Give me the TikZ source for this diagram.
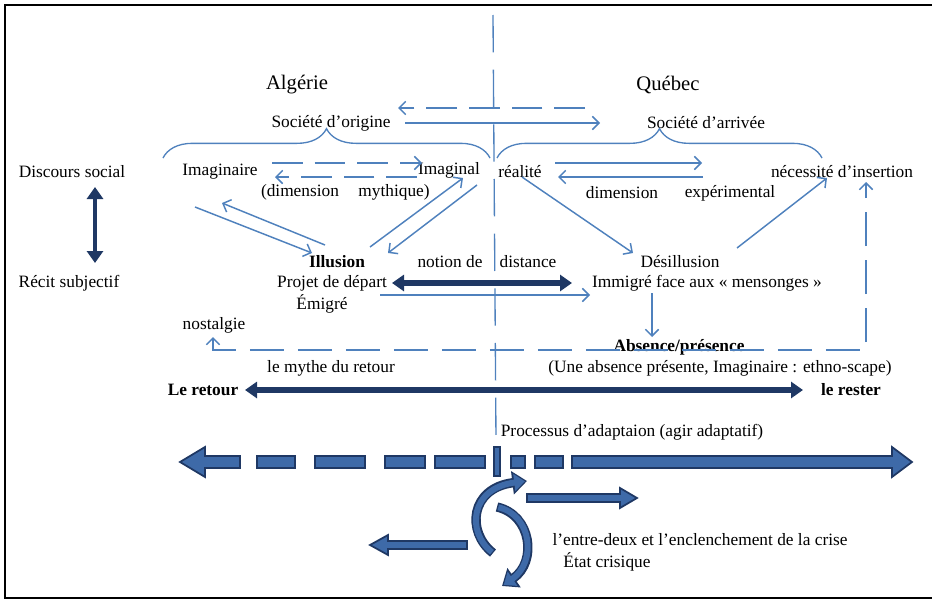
\documentclass[tikz,border=0pt]{standalone}
\usepackage{fontspec}
\setmainfont{Liberation Serif}
\usetikzlibrary{positioning,arrows.meta,decorations.pathreplacing}
\definecolor{bleu}{RGB}{79,129,189}
\definecolor{marine}{RGB}{31,56,100}
\definecolor{bleubloc}{RGB}{62,106,168}
\tikzset{
  every node/.style={font=\fontsize{13}{15}\selectfont, inner sep=0pt},
  titre/.style={font=\fontsize{15.5}{18}\selectfont},
  gras/.style={font=\fontsize{13}{15}\selectfont\bfseries},
  trait/.style={draw=bleu, line width=1.1pt, >={Straight Barb[length=5pt,width=10pt]}, ->},
  tiret/.style={trait, dash pattern=on 23pt off 9pt},
  fleche/.style={draw=marine, line width=4.5pt, {Triangle[length=9pt,width=12pt]}-{Triangle[length=9pt,width=12pt]}},
  bloc/.style={draw=marine, fill=bleubloc, line width=1.3pt}
}

\begin{document}
\begin{tikzpicture}[x=0.75pt, y=-0.75pt]
  \useasboundingbox (0,0) rectangle (932,600);
  \draw[line width=1.5pt] (932,5) -- (5,5) -- (5,598) -- (932,598);

  % dividing line
  \draw[bleu, line width=1pt, dash pattern=on 28pt off 13pt] (493,15) -- (496,440);

  \node[titre] (algerie) at (297,85) {Algérie};
  \node[titre] (quebec)  at (668,85) {Québec};
  \node (origine) at (331,123) {Société d’origine};
  \node (arrivee) at (706,123) {Société d’arrivée};

  \draw[bleu, line width=1pt, decorate, decoration={brace, amplitude=22pt}] (163,158) -- (490,158);
  \draw[bleu, line width=1pt, decorate, decoration={brace, amplitude=22pt}] (497,158) -- (822,158);

  \node (discours)     at (72,172)  {Discours social};
  \node (recit)        at (69,283)  {Récit subjectif};
  \node (imaginaire)   at (220,172) {Imaginaire};
  \node (imaginal)     at (449,170) {Imaginal};
  \node (dimmyth)      at (300,192) {(dimension};
  \node (mythique)     at (394,192) {mythique)};
  \node (realite)      at (520,172) {réalité};
  \node (dimexp)       at (622,193) {dimension};
  \node (experimental) at (730,193) {expérimental};
  \node (insertion)    at (842,172) {nécessité d’insertion};

  \node[gras] (illusion) at (337,262) {Illusion};
  \node (notion)      at (450,262) {notion de};
  \node (distance)    at (528,262) {distance};
  \node (desillusion) at (680,262) {Désillusion};
  \node (projet)      at (332,283) {Projet de départ};
  \node (immigre)     at (707,283) {Immigré face aux « mensonges »};
  \node (emigre)      at (322,304) {Émigré};
  \node (nostalgie)   at (214,325) {nostalgie};
  \node[gras] (absence) at (679,347) {Absence/présence};
  \node (ethno)       at (720,368) {(Une absence présente, Imaginaire : ethno-scape)};
  \node (mythe)       at (331,368) {le mythe du retour};
  \node[gras] (retour) at (203,390) {Le retour};
  \node[gras] (rester) at (851,390) {le rester};

  \node (processus) at (632,432) {Processus d’adaptaion (agir adaptatif)};
  \node (entredeux) at (700,540) {l’entre-deux et l’enclenchement de la crise};
  \node (etat)      at (607,562) {État crisique};

  % thin connectors
  \draw[tiret] ([shift={(-121,-15)}]arrivee.center) -- ([shift={(67,-15)}]origine.center);
  \draw[trait] ([shift={(74,0)}]origine.center) -- ([shift={(-106,0)}]arrivee.center);
  \draw[tiret] ([shift={(52,-9)}]imaginaire.center) -- ([shift={(-27,-7)}]imaginal.center);
  \draw[tiret] ([shift={(-32,7)}]imaginal.center) -- ([shift={(55,5)}]imaginaire.center);
  \draw[trait] ([shift={(-25,35)}]imaginaire.center) -- ([shift={(-25,-9)}]illusion.center);
  \draw[trait] ([shift={(-12,-17)}]illusion.center) -- ([shift={(2,31)}]imaginaire.center);
  \draw[trait] ([shift={(33,-15)}]illusion.center) -- ([shift={(14,8)}]imaginal.center);
  \draw[trait] ([shift={(28,15)}]imaginal.center) -- ([shift={(51,-9)}]illusion.center);
  \draw[trait] ([shift={(35,-9)}]realite.center) -- ([shift={(-28,-30)}]experimental.center);
  \draw[trait] ([shift={(-27,-16)}]experimental.center) -- ([shift={(38,5)}]realite.center);
  \draw[trait] ([shift={(2,5)}]realite.center) -- ([shift={(-47,-9)}]desillusion.center);
  \draw[trait] ([shift={(57,-14)}]desillusion.center) -- ([shift={(-15,6)}]insertion.center);
  \draw[trait] ([shift={(48,12)}]projet.center) -- ([shift={(-117,12)}]immigre.center);
  \draw[trait] ([shift={(-55,10)}]immigre.center) -- ([shift={(-27,-10)}]absence.center);
  \draw[trait, <->, dash pattern=on 26pt off 10pt] ([shift={(-1,12)}]nostalgie.center) -- ++(0,13) -| ([shift={(24,10)}]insertion.center);

  % thick connectors
  \draw[fleche, line width=3.5pt] ([shift={(23,15)}]discours.center) -- ([shift={(26,-20)}]recit.center);
  \draw[fleche] ([shift={(60,0)}]projet.center) -- ([shift={(-135,0)}]immigre.center);
  \draw[fleche] ([shift={(42,0)}]retour.center) -- ([shift={(-48,0)}]rester.center);

  % block arrows
  \draw[bloc] (180,462) -- (205,447) -- (205,456) -- (240,456) -- (240,468) -- (205,468) -- (205,477) -- cycle;
  \foreach \a/\b in {257/295, 315/365, 385/425, 435/485, 511/525, 535/563}
    \draw[bloc] (\a,456) rectangle (\b,468);
  \draw[bloc] (494,447) rectangle (500,476);
  \draw[bloc] (572,456) -- (892,456) -- (892,447) -- (912,462) -- (892,477) -- (892,468) -- (572,468) -- cycle;
  \draw[bloc] (527,494) -- (620,494) -- (620,488) -- (637,498) -- (620,508) -- (620,502) -- (527,502) -- cycle;
  \draw[bloc] (467,541) -- (388,541) -- (388,535) -- (370,545) -- (388,555) -- (388,549) -- (467,549) -- cycle;
  \draw[marine, line width=7pt, -{Triangle[length=11pt,width=17pt]}] (493,553) .. controls (466,532) and (470,488) .. (527,481);
  \draw[bleubloc, line width=4.5pt, shorten <=1pt, shorten >=1.6pt, -{Triangle[length=8pt,width=12.5pt]}] (493,553) .. controls (466,532) and (470,488) .. (527,481);
  \draw[marine, line width=7pt, -{Triangle[length=11pt,width=17pt]}] (497,507) .. controls (532,515) and (537,562) .. (502,586);
  \draw[bleubloc, line width=4.5pt, shorten <=1pt, shorten >=1.6pt, -{Triangle[length=8pt,width=12.5pt]}] (497,507) .. controls (532,515) and (537,562) .. (502,586);
\end{tikzpicture}
\end{document}
